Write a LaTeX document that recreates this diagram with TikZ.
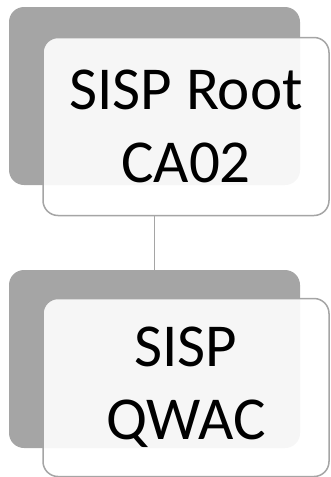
\documentclass[tikz,border=0pt]{standalone}
\usepackage{fontspec}
\setmainfont{Carlito}
\usepackage{tikz}
\definecolor{backgray}{HTML}{A5A5A5}

\begin{document}
\begin{tikzpicture}[x=1pt,y=-1pt]
      \tikzset{back/.style={fill=backgray, rounded corners=15pt, minimum width=291pt, minimum height=178pt, inner sep=0pt},
        front/.style={draw=backgray, line width=1.5pt, fill=white, fill opacity=.9, text opacity=1, rounded corners=15pt,
          minimum width=286pt, minimum height=178pt, inner sep=0pt, align=center, font=\fontsize{61}{73}\selectfont}}
      \useasboundingbox (0,0) rectangle (330,477);

      \node (B1) at (154.5,96)  [back] {};
      \node (Root) at (186,126.5)  [front] {SISP Root\\CA02};
      \node (B2) at (154.5,359)  [back] {};
      \node (Qwac) at (186,387.5)  [front] {SISP\\QWAC};

      \draw[backgray, line width=1.5pt] (B2.north |- Root.south) to (B2.north);

    \end{tikzpicture}
\end{document}
